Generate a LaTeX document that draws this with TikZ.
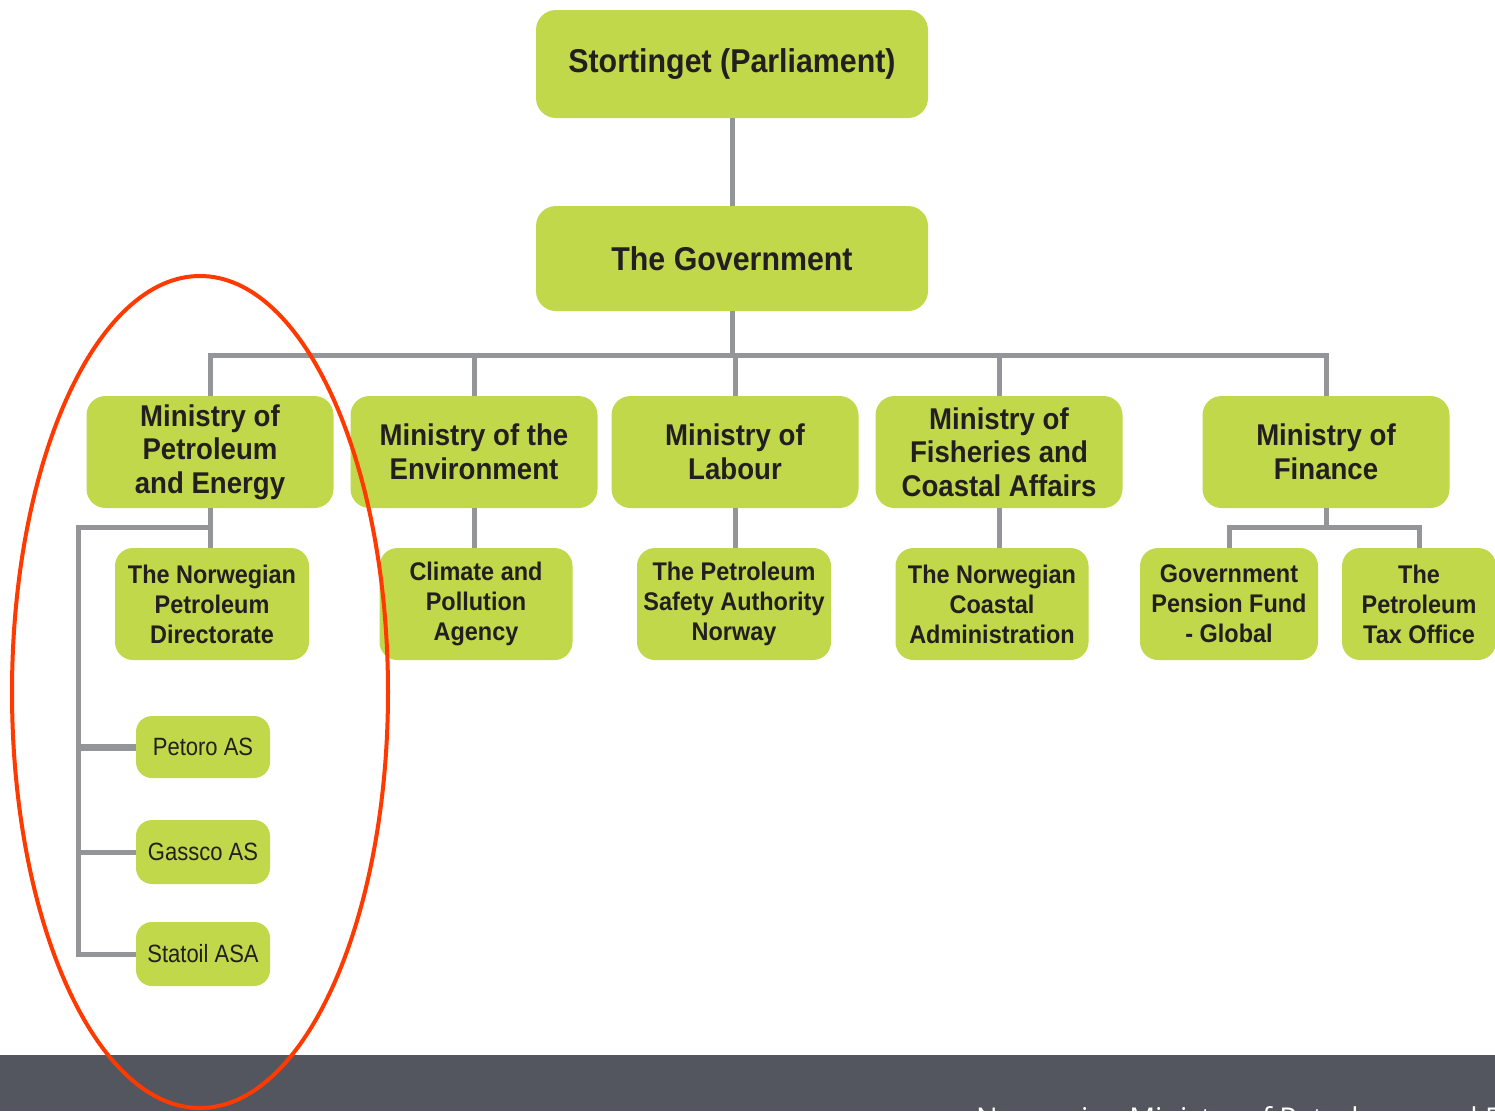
\documentclass[tikz,border=0pt]{standalone}
\usepackage{fontspec}
\setmainfont{Liberation Sans}
\newfontfamily\boldnarrow[FakeStretch=0.92]{Liberation Sans Bold}
\newfontfamily\regnarrow[FakeStretch=0.88]{Liberation Sans}
\newfontfamily\footfont{Open Sans}
\definecolor{boxgreen}{HTML}{C0D84A}
\definecolor{linegray}{HTML}{939598}
\definecolor{txtdark}{HTML}{231F20}
\definecolor{ovalred}{HTML}{FF3A00}
\definecolor{footgray}{HTML}{53565E}
\tikzset{
  topbox/.style={fill=boxgreen, rounded corners=20pt, minimum width=392pt, inner sep=0pt, align=center, text=txtdark, font=\boldnarrow\fontsize{33}{38}\selectfont},
  minbox/.style={fill=boxgreen, rounded corners=19pt, minimum width=247pt, minimum height=112pt, inner sep=0pt, align=center, text=txtdark, font=\boldnarrow\fontsize{30}{33.5}\selectfont},
  subbox/.style={fill=boxgreen, rounded corners=18pt, minimum height=112pt, inner sep=0pt, align=center, text=txtdark, font=\boldnarrow\fontsize{25.5}{30}\selectfont},
  leafbox/.style={fill=boxgreen, rounded corners=16pt, minimum width=134pt, inner sep=0pt, align=center, text=txtdark, font=\regnarrow\fontsize{25}{30}\selectfont},
  conn/.style={draw=linegray, line width=5pt},
}
\begin{document}
\begin{tikzpicture}[x=1pt, y=-1pt]
\useasboundingbox (0,0) rectangle (1495,1111);
\fill[white] (0,0) rectangle (1495,1111);
% footer
\fill[footgray] (0,1055) rectangle (1495,1111);
\begin{scope}
\clip (0,1055) rectangle (1495,1111);
\node[anchor=base west, inner sep=0pt, text=white, font=\footfont\fontsize{28.7}{32}\selectfont] (foot) at (976,1128) {Norwegian Ministry of Petroleum and Energy};
\end{scope}
% nodes
\node[topbox, minimum height=108pt] (stort) at (732,64) {Stortinget (Parliament)};
\node[topbox, minimum height=105pt] (gov) at (732,258.5) {The Government};
\node[minbox] (mpe) at (210,452) {Ministry of\\Petroleum\\and Energy};
\node[minbox] (env) at (474,452) {Ministry of the\\Environment};
\node[minbox] (lab) at (735,452) {Ministry of\\Labour};
\node[minbox] (fish) at (999,452) {Ministry of\\Fisheries and\\Coastal Affairs};
\node[minbox] (fin) at (1326,452) {Ministry of\\Finance};
\node[subbox, minimum width=194pt] (npd) at (212,604) {The Norwegian\\Petroleum\\Directorate};
\node[subbox, minimum width=193pt] (clim) at (476,604) {Climate and\\Pollution\\Agency};
\node[subbox, minimum width=194pt] (psa) at (734,604) {The Petroleum\\Safety Authority\\Norway};
\node[subbox, minimum width=193pt] (cca) at (992,604) {The Norwegian\\Coastal\\Administration};
\node[subbox, minimum width=178pt] (gpf) at (1229,604) {Government\\Pension Fund\\- Global};
\node[subbox, minimum width=154pt] (pto) at (1419,604) {The\\Petroleum\\Tax Office};
\node[leafbox, minimum height=62pt] (petoro) at (203,747) {Petoro AS};
\node[leafbox, minimum height=64pt] (gassco) at (203,852) {Gassco AS};
\node[leafbox, minimum height=64pt] (statoil) at (203,954) {Statoil ASA};
% connectors
\coordinate (bus) at (0,355);
\coordinate (fbus) at (0,527);
\coordinate (spine) at (78,527);
\draw[conn] (stort.south) -- (gov.north);
\draw[conn] (gov.south) -- (gov.south |- bus);
\draw[conn] (mpe.north) -- (mpe.north |- bus) -| (fin.north);
\draw[conn] (env.north) -- (env.north |- bus);
\draw[conn] (lab.north) -- (lab.north |- bus);
\draw[conn] (fish.north) -- (fish.north |- bus);
\draw[conn] (mpe.south) -- (mpe.south |- npd.north);
\draw[conn] (env.south) -- (env.south |- clim.north);
\draw[conn] (lab.south) -- (lab.south |- psa.north);
\draw[conn] (fish.south) -- (fish.south |- cca.north);
\draw[conn] (fin.south) -- (fin.south |- fbus);
\draw[conn] (gpf.north) -- (gpf.north |- fbus) -| (pto.north);
\draw[conn] (mpe.south |- spine) -- (spine) |- (statoil.west);
\draw[conn, line width=7pt] (spine |- petoro.west) -- (petoro.west);
\draw[conn] (spine |- gassco.west) -- (gassco.west);
% red oval
\draw[ovalred, line width=4pt] (200,692) ellipse [x radius=188, y radius=416];
\end{tikzpicture}
\end{document}
